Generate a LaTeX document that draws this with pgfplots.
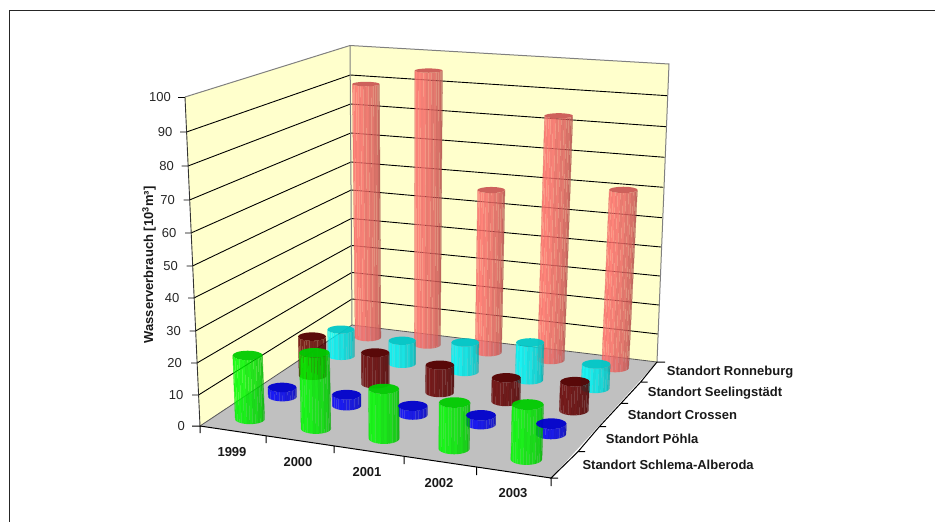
\documentclass[border=0pt]{standalone}
\usepackage{pgfplots}
\usepackage{pgfplotstable}
\usepackage{fontspec}
\setmainfont{Liberation Sans}
\pgfplotsset{compat=1.18}

% Water use in 10^3 m^3, one column per site, one row per year
\pgfplotstableread{
year schlema poehla crossen seeling ronneburg
1999 20.7 3.1 13.5 9.4 88.7
2000 24.3 3.6 10.7 8.1 94.5
2001 15.8 2.9 9.3 10.2 56.6
2002 14.5 2.9 7.9 12.9 82.8
2003 16.9 3.3 9.5 8.3 60.5
}\waterdata

% Perspective of the chart box: floor position (u,v) and height w, all in 0..1
\def\ha{310.7}\def\hb{214.0}\def\hc{200}
\def\hd{17.1}\def\he{-43.7}\def\hf{426}
\def\hg{-0.0731}\def\hh{0.1762}
\def\hp{-27.6}\def\hq{-334.5}\def\hr{-0.068}

\definecolor{wallyellow}{RGB}{255,255,204}
\definecolor{floorgrey}{RGB}{192,192,192}
\definecolor{edgegrey}{RGB}{128,128,128}
\definecolor{cylgreen}{RGB}{0,255,0}
\definecolor{cylblue}{RGB}{0,0,255}
\definecolor{cylred}{RGB}{105,0,0}
\definecolor{cylcyan}{RGB}{0,250,250}
\definecolor{cylpink}{RGB}{255,112,108}

% Brightness of the sixteen faces round a cylinder, left to right
\def\facelevel#1{\ifcase#1 86\or 94\or 100\or 96\or 100\or 95\or 97\or 90\or 93\or 86\or 88\or 81\or 83\or 74\or 72\or 64\fi}

% #1 year index, #2 site index, #3 value, #4 colour
\newcommand\drawcylinder[4]{%
  \pgfmathsetmacro\cu{(#1+0.5)/5}%
  \pgfmathsetmacro\cv{(#2+0.5)/5}%
  \pgfmathsetmacro\cw{#3/100}%
  \pgfmathsetmacro\D{1+\hg*\cu+\hh*\cv}%
  \pgfmathsetmacro\X{\ha*\cu+\hb*\cv+\hc}%
  \pgfmathsetmacro\Y{\hd*\cu+\he*\cv+\hf}%
  \pgfmathsetmacro\Dt{\D+\hr*\cw}%
  \pgfmathsetmacro\bx{\X/\D}%
  \pgfmathsetmacro\by{\Y/\D}%
  \pgfmathsetmacro\tx{(\X+\hp*\cw)/\Dt}%
  \pgfmathsetmacro\ty{(\Y+\hq*\cw)/\Dt}%
  \pgfmathsetmacro\rb{15/\D}%
  \pgfmathsetmacro\rt{15/\Dt}%
  \pgfmathsetmacro\kb{0.16+(\by-80)*0.00055}%
  \pgfmathsetmacro\kt{0.16+(\ty-80)*0.00055}%
  \foreach \s in {0,...,15} {%
    \pgfmathsetmacro\af{180-\s*11.25}%
    \pgfmathsetmacro\ag{180-(\s+1)*11.25}%
    \pgfmathsetmacro\xa{\bx+\rb*cos(\af)}%
    \pgfmathsetmacro\ya{\by+\rb*\kb*sin(\af)}%
    \pgfmathsetmacro\xb{\bx+\rb*cos(\ag)}%
    \pgfmathsetmacro\yb{\by+\rb*\kb*sin(\ag)}%
    \pgfmathsetmacro\xc{\tx+\rt*cos(\ag)}%
    \pgfmathsetmacro\yc{\ty+\rt*\kt*sin(\ag)}%
    \pgfmathsetmacro\xd{\tx+\rt*cos(\af)}%
    \pgfmathsetmacro\yd{\ty+\rt*\kt*sin(\af)}%
    \edef\strip{\noexpand\addplot[draw=none,fill=#4!\facelevel{\s}!black,fill opacity=0.85,forget plot]
      coordinates {(\xa,\ya)(\xb,\yb)(\xc,\yc)(\xd,\yd)} --cycle;}%
    \strip
  }%
  \edef\cap{\noexpand\addplot[only marks,forget plot,mark=*,mark size=\rt,
      mark options={yscale=\kt,draw=#4!80!black,line width=0pt,fill=#4!80!black,fill opacity=0.95,draw opacity=0}]
      coordinates {(\tx,\ty)};}%
  \cap
}

\begin{document}
\begin{tikzpicture}
\useasboundingbox (0,0) rectangle (935pt,522pt);
\begin{axis}[
  anchor=south west, at={(0,0)},
  scale only axis, width=935pt, height=522pt,
  xmin=0, xmax=935, ymin=0, ymax=522, y dir=reverse,
  hide axis, clip=false,
]
% outer frame
\addplot[black!85,line width=1.4pt,forget plot] coordinates {(9.5,522)(9.5,10.7)(935,10.7)};

% walls and floor
\addplot[draw=none,fill=wallyellow,forget plot] coordinates {(200,426)(185,97)(350,45.5)(352,325)} --cycle;
\addplot[draw=none,fill=wallyellow,forget plot] coordinates {(352,325)(350,45.5)(669,64)(657,362)} --cycle;
\addplot[draw=none,fill=floorgrey,forget plot] coordinates {(200,426)(352,325)(657,362)(551,478)} --cycle;

% grid lines on both walls, with the value ticks on the left
\addplot[black,line width=0.9pt,forget plot] coordinates {(192,395)(198.5,395)(352,299)(658,334)};
\addplot[black,line width=0.9pt,forget plot] coordinates {(191,363)(197,363)(351.8,272.5)(659,305)};
\addplot[black,line width=0.9pt,forget plot] coordinates {(189.5,331)(195.5,331)(351.6,245.5)(660,276)};
\addplot[black,line width=0.9pt,forget plot] coordinates {(188,298)(194,298)(351.4,218.5)(661,247)};
\addplot[black,line width=0.9pt,forget plot] coordinates {(186.5,266)(192.5,266)(351.2,190)(662,217.7)};
\addplot[black,line width=0.9pt,forget plot] coordinates {(185,233)(191,233)(351,162)(663.3,187.3)};
\addplot[black,line width=0.9pt,forget plot] coordinates {(183.5,200)(189.5,200)(350.8,133)(664.7,157.3)};
\addplot[black,line width=0.9pt,forget plot] coordinates {(181.5,166)(188,166)(350.6,104)(666,126.7)};
\addplot[black,line width=0.9pt,forget plot] coordinates {(180,132)(186.5,132)(350.3,75)(667.3,95.7)};
\addplot[black,line width=0.9pt,forget plot] coordinates {(178,97)(185,97)};

% wall outline
\addplot[edgegrey,line width=1pt,forget plot] coordinates {(185,97)(350,45.5)(669,64)(657,362)};
\addplot[edgegrey,line width=1pt,forget plot] coordinates {(350,45.5)(352,325)};
\addplot[black!80,line width=0.9pt,forget plot] coordinates {(185,97)(200,426)};
\addplot[black!65,line width=0.8pt,forget plot] coordinates {(200,426)(352,325)(657,362)};

% cylinders, rear row first
\foreach \row/\col/\tint in {4/5/cylpink,3/4/cylcyan,2/3/cylred,1/2/cylblue,0/1/cylgreen} {%
  \foreach \yr in {0,...,4} {%
    \pgfplotstablegetelem{\yr}{[index]\col}\of\waterdata
    \let\val\pgfplotsretval
    \drawcylinder{\yr}{\row}{\val}{\tint}%
  }%
}

% front edges of the floor and their ticks
\addplot[black,line width=1pt,forget plot] coordinates {(192,426)(200,426)(200,433)(200,426)(266,435.8)(266,443)(266,435.8)(334,445.9)(334,453)(334,445.9)(404,456.3)(404,464)(404,456.3)(476.5,467)(476.5,475)(476.5,467)(551,478)(551,486)(551,478)};
\addplot[black,line width=1pt,forget plot] coordinates {(558,478)(551,478)(578,451.7)(585,451.7)(578,451.7)(599.3,426.7)(606,426.7)(599.3,426.7)(621,403.3)(628,403.3)(621,403.3)(640.7,382)(647.5,382)(640.7,382)(657,362)(665,362)};

% value labels
\begin{scope}[every node/.style={font=\fontsize{13}{15}\selectfont,anchor=east,inner sep=0pt,text=black!85}]
\node at (185,426) {0};
\node at (183.5,395) {10};
\node at (182,363) {20};
\node at (181,331) {30};
\node at (179.5,298) {40};
\node at (178,266) {50};
\node at (176.5,233) {60};
\node at (175,200) {70};
\node at (174,166) {80};
\node at (172.5,132) {90};
\node at (171,97) {100};
\end{scope}

% year labels
\begin{scope}[every node/.style={font=\fontsize{13}{15}\selectfont\bfseries,anchor=center,inner sep=0pt,text=black!90}]
\node at (232,452) {1999};
\node at (298,462) {2000};
\node at (367,472) {2001};
\node at (439,483) {2002};
\node at (513,493) {2003};
\end{scope}

% site labels
\begin{scope}[every node/.style={font=\fontsize{13}{15}\selectfont\bfseries,anchor=west,inner sep=0pt,text=black!90}]
\node at (582.3,465) {Standort Schlema-Alberoda};
\node at (605.7,439) {Standort Pöhla};
\node at (627.7,415) {Standort Crossen};
\node at (647.7,392.7) {Standort Seelingstädt};
\node at (666.7,371.7) {Standort Ronneburg};
\end{scope}

\node[font=\fontsize{13}{15}\selectfont\bfseries,rotate=90,inner sep=0pt,text=black!90] at (149,265) {Wasserverbrauch [10$^{\mathbf{3}}$m³]};
\end{axis}
\end{tikzpicture}
\end{document}
